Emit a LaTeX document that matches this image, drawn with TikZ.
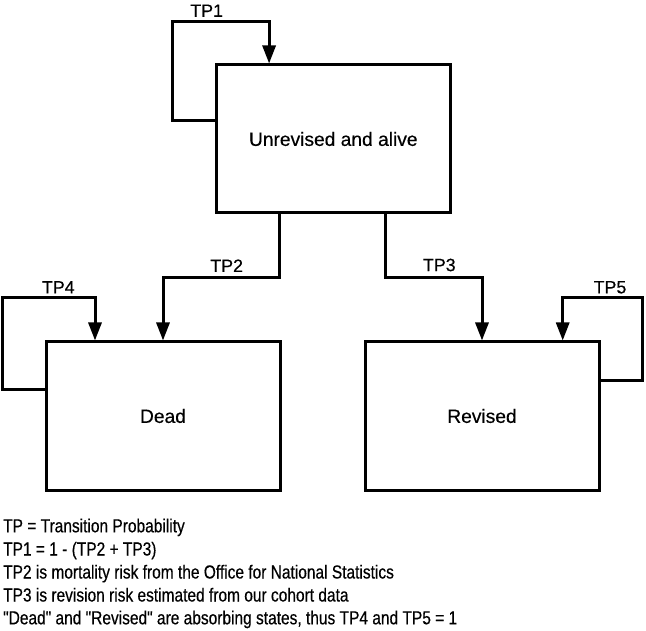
\documentclass[tikz,border=0pt]{standalone}
\usepackage{fontspec}
\setmainfont[FakeBold=0.4]{Liberation Sans}
\newfontfamily\notefont[FakeStretch=0.82,FakeBold=0.4]{Liberation Sans}
\usetikzlibrary{arrows.meta}
\begin{document}
\begin{tikzpicture}[x=1pt,y=-1pt,
  statebox/.style={draw,line width=3pt,minimum width=234pt,minimum height=148pt,inner sep=0pt,font=\fontsize{19.2}{22}\selectfont},
  arr/.style={line width=3pt,-{Triangle[width=13pt,length=18pt]}},
  tplabel/.style={inner sep=0pt,font=\fontsize{17.8}{21}\selectfont},
  note/.style={anchor=base west,inner sep=0pt,font=\notefont\fontsize{18.9}{22}\selectfont}]
\useasboundingbox[fill=white] (0,0) rectangle (646,631);
\node[statebox] (top) at (333.3,139) {Unrevised and alive};
\node[statebox] (dead) at (163,416) {Dead};
\node[statebox] (rev) at (482,416) {Revised};
\coordinate (c1) at (172.7,21.7);
\coordinate (m2) at (163,277.7);
\coordinate (m3) at (482,277.7);
\coordinate (c4) at (2.7,297.7);
\coordinate (c5) at (642.7,297.7);
\draw[arr] ([yshift=-56.7pt]top.north west) -| (c1) -| ([xshift=54.3pt]top.north west);
\draw[arr] ([xshift=-54pt]top.south) |- (m2) -- (dead.north);
\draw[arr] ([xshift=51.7pt]top.south) |- (m3) -- (rev.north);
\draw[arr] ([yshift=26.7pt]dead.west) -| (c4) -| ([xshift=-68pt]dead.north);
\draw[arr] ([yshift=35pt]rev.east) -| (c5) -| ([xshift=80.7pt]rev.north);
\node[tplabel] (l1) at (206.7,10.7) {TP1};
\node[tplabel] (l2) at (226.7,265.7) {TP2};
\node[tplabel] (l3) at (439.3,265) {TP3};
\node[tplabel] (l4) at (58.3,287.3) {TP4};
\node[tplabel] (l5) at (610,287.3) {TP5};
\node[note] (n1) at (3,532.3) {TP = Transition Probability};
\node[note] (n2) at (3,555.5) {TP1 = 1 - (TP2 + TP3)};
\node[note] (n3) at (3,578.5) {TP2 is mortality risk from the Office for National Statistics};
\node[note] (n4) at (3,601.5) {TP3 is revision risk estimated from our cohort data};
\node[note] (n5) at (3,624.3) {"Dead" and "Revised" are absorbing states, thus TP4 and TP5 = 1};
\end{tikzpicture}
\end{document}
